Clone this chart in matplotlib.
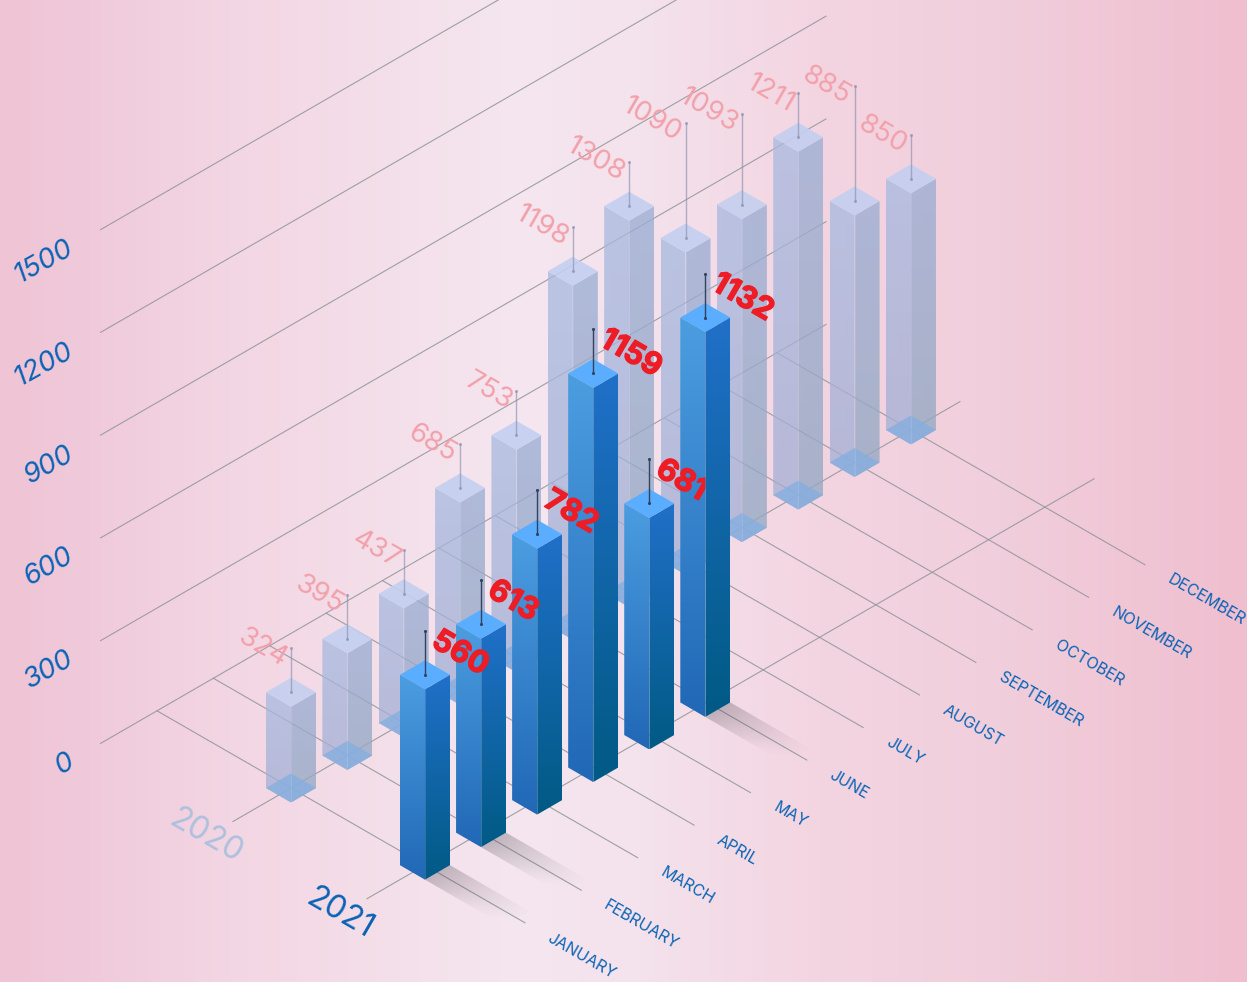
import matplotlib
matplotlib.use("Agg")
import matplotlib.patheffects as pe
import matplotlib.pyplot as plt
import numpy as np
from matplotlib.colors import to_rgb
from matplotlib.patches import Polygon

# -------------------------------
# Data
# -------------------------------
months = ["JANUARY", "FEBRUARY", "MARCH", "APRIL", "MAY", "JUNE", "JULY",
          "AUGUST", "SEPTEMBER", "OCTOBER", "NOVEMBER", "DECEMBER"]
values_2020 = [324, 395, 437, 685, 753, 1198, 1308, 1090, 1093, 1211, 885, 850]
values_2021 = [560, 613, 782, 1159, 681, 1132]
y_ticks = [0, 300, 600, 900, 1200, 1500]
years = ["2020", "2021"]

# -------------------------------
# Isometric projection (image pixels)
# -------------------------------
ORIGIN = np.array([291.0, 788.0])
MONTH_STEP = np.array([56.36, -32.55])
YEAR_STEP = np.array([134.0, 77.2])
AXIS_SCALE = 0.3425
SCALE_2020 = 0.2955   # the 2020 bars are drawn shorter than the axis says
SCALE_2021 = 0.340
DRIFT_2021 = 0.3      # 2021 bars creep left of their grid line a little


def iso(m, y, height=0.0):
    p = ORIGIN + m * MONTH_STEP + y * YEAR_STEP
    return np.array([p[0], p[1] - height])


def footprint(m, y, height=0.0):
    c = iso(m, y, height)
    c[0] -= y * DRIFT_2021 * m
    dx, dy = 25.0, 14.5
    return dict(back=c + [0, -dy], right=c + [dx, 0], front=c + [0, dy], left=c + [-dx, 0], center=c)


# -------------------------------
# Styling
# -------------------------------
FONT = "Inter"
BLUE = "#0b63b5"
RED = "#ee1c25"
PINK = "#f2a0ab"
GRID = "#8f9499"

fig = plt.figure(figsize=(12.47, 9.82), dpi=100)
ax = fig.add_axes([0, 0, 1, 1])
ax.set_xlim(0, 1247)
ax.set_ylim(982, 0)
ax.axis("off")
ax.set_autoscale_on(False)

# background
stops_x = [0, 90, 230, 400, 520, 640, 820, 1000, 1130, 1247]
stops_c = ["#efc4d4", "#f0cadb", "#f3d6e3", "#f4e0ea", "#f5e6ef", "#f4e2ec", "#f3d5e1", "#f1cedb", "#f0c6d5", "#efbecf"]
xs = np.arange(1247)
bg = np.stack([np.interp(xs, stops_x, [to_rgb(c)[i] for c in stops_c]) for i in range(3)], axis=-1)[None, :, :]
ax.imshow(bg, extent=(0, 1247, 982, 0), aspect="auto", zorder=0)


def gradient_face(pts, top, bottom, alpha=1.0, zorder=3):
    pts = np.array(pts)
    y0, y1 = pts[:, 1].min(), pts[:, 1].max()
    col = np.linspace(to_rgb(top), to_rgb(bottom), 64)[:, None, :]
    im = ax.imshow(col, extent=(pts[:, 0].min(), pts[:, 0].max(), y1, y0),
                   aspect="auto", interpolation="bilinear", alpha=alpha, zorder=zorder)
    im.set_clip_path(Polygon(pts, closed=True, transform=ax.transData))


def draw_stem(x, y_low, y_high, color, alpha, zorder):
    ax.plot([x, x], [y_low, y_high], color=color, lw=1.0, alpha=alpha, zorder=zorder)
    ax.scatter([x, x], [y_low, y_high], s=5, color=color, alpha=alpha, linewidths=0, zorder=zorder)


def draw_shadow(front, right, length=80, strength=0.3):
    direction = np.array([1.0, 0.579])
    pts = np.array([front, right, right + direction * length, front + direction * length])
    x0, x1 = int(pts[:, 0].min()), int(pts[:, 0].max()) + 1
    y0, y1 = int(pts[:, 1].min()), int(pts[:, 1].max()) + 1
    gx, gy = np.meshgrid(np.arange(x0, x1) + 0.5, np.arange(y0, y1) + 0.5)
    # distance from the bar along the shadow, 0 to 1
    normal = np.array([right[1] - front[1], front[0] - right[0]])
    dist = ((gx - front[0]) * normal[0] + (gy - front[1]) * normal[1]) / (direction @ normal) / length
    # the lower side of the shadow fades out sooner
    side = ((gx - front[0]) * 0.5 - (gy - front[1]) * 0.866 + 16) / 30
    rgba = np.zeros(gx.shape + (4,))
    rgba[..., :3] = to_rgb("#4a4550")
    rgba[..., 3] = strength * np.clip(1 - dist * (1.5 - 0.6 * np.clip(side, 0, 1)), 0, 1) ** 1.5
    im = ax.imshow(rgba, extent=(x0, x1, y1, y0), aspect="auto", zorder=1.5)
    im.set_clip_path(Polygon(pts, closed=True, transform=ax.transData))


# -------------------------------
# Grid lines
# -------------------------------
M_START, M_END = -1.03, 11.87
for v in y_ticks:
    a = iso(-1.0, -1, v * AXIS_SCALE)
    b = iso(M_END, -1, v * AXIS_SCALE)
    ax.plot([a[0], b[0]], [a[1], b[1]], color=GRID, lw=0.8, alpha=0.85, zorder=1)
    ax.text(a[0] - 29, a[1] + 17, str(v), rotation=29, rotation_mode="anchor", ha="right", va="center",
            fontsize=20, family=FONT, style="italic", color=BLUE, zorder=1)

for i, name in enumerate(months):
    a = iso(i, -1)
    b = iso(i, 1.746)
    ax.plot([a[0], b[0]], [a[1], b[1]], color=GRID, lw=0.8, alpha=0.85, zorder=1)
    t = iso(i, 1.925)
    ax.text(t[0], t[1], name, rotation=-30, rotation_mode="anchor", ha="left", va="center",
            fontsize=11.5, family=FONT, color=BLUE, zorder=1)

for y, (name, col) in enumerate(zip(years, ["#aec0de", BLUE])):
    a = iso(M_START, y)
    b = iso(M_END, y)
    ax.plot([a[0], b[0]], [a[1], b[1]], color=GRID, lw=0.8, alpha=0.85, zorder=1)
    ax.text(a[0] - 27, a[1] + 15, name, rotation=-30, rotation_mode="anchor", ha="center", va="center",
            fontsize=23, family=FONT, color=col, zorder=1)

# -------------------------------
# Shadows (only these three bars have one)
# -------------------------------
for m in [0, 1, 5]:
    f = footprint(m, 1)
    draw_shadow(f["front"], f["right"])

# -------------------------------
# 2020 bars (see-through)
# -------------------------------
long_stems = {7: 115, 8: 91, 10: 115}
for m in range(len(values_2020) - 1, -1, -1):
    h = values_2020[m] * SCALE_2020
    low = footprint(m, 0)
    top = footprint(m, 0, h)
    gradient_face([top["left"], top["front"], low["front"], low["left"]], "#a8bae0", "#a4aed4", alpha=0.75)
    gradient_face([top["front"], top["right"], low["right"], low["front"]], "#9caed4", "#94a8c2", alpha=0.78)
    ax.add_patch(Polygon([low["back"], low["right"], low["front"], low["left"]], closed=True,
                         facecolor="#86aee0", edgecolor="none", alpha=0.8, zorder=3.1))
    ax.add_patch(Polygon([top["back"], top["right"], top["front"], top["left"]], closed=True,
                         facecolor="#c4cff0", edgecolor="none", alpha=0.9, zorder=3.2))
    ax.plot([top["front"][0], low["front"][0]], [top["front"][1], low["front"][1]],
            color="white", lw=0.6, alpha=0.12, zorder=3.3)
    stem_top = top["center"][1] - long_stems.get(m, 44)
    draw_stem(top["center"][0], top["center"][1], stem_top, "#8a90b0", 0.65, 3.4)
    ax.text(top["center"][0] - 6, stem_top + 13, str(values_2020[m]), rotation=-30, rotation_mode="anchor",
            ha="right", va="center", fontsize=20, family=FONT, color=PINK, zorder=3.5)

# -------------------------------
# 2021 bars
# -------------------------------
cut_by_right_face = {5}   # this right face sits on top of the neighbouring label
for m in range(len(values_2021) - 1, -1, -1):
    h = values_2021[m] * SCALE_2021
    low = footprint(m, 1)
    top = footprint(m, 1, h)
    gradient_face([top["left"], top["front"], low["front"], low["left"]], "#4b9de0", "#2168b6", zorder=5)
    right_z = 9 if m in cut_by_right_face else 5
    gradient_face([top["front"], top["right"], low["right"], low["front"]], "#2070c8", "#015a85", zorder=right_z)
    ax.add_patch(Polygon([top["back"], top["right"], top["front"], top["left"]], closed=True,
                         facecolor="#5aadff", edgecolor="none", zorder=5.1))
    ax.plot([top["front"][0], low["front"][0]], [top["front"][1], low["front"][1]],
            color="white", lw=0.5, alpha=0.2, zorder=right_z + 0.1)
    stem_top = top["center"][1] - 44
    draw_stem(top["center"][0], top["center"][1], stem_top, "#34425f", 1.0, 6)
    ax.text(top["center"][0] + 9, stem_top + 8, str(values_2021[m]), rotation=-30, rotation_mode="anchor",
            ha="left", va="center", fontsize=22, family=FONT, weight="bold", color=RED, zorder=8,
            path_effects=[pe.withStroke(linewidth=1.0, foreground=RED)])

fig.savefig("out.png", dpi=100)
plt.close(fig)
